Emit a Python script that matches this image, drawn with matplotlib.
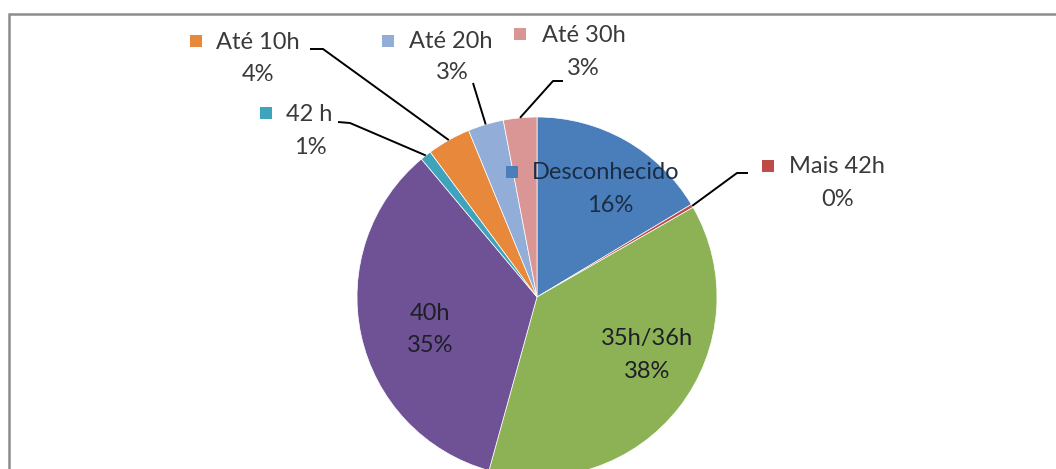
import matplotlib
matplotlib.use('Agg')
import matplotlib.pyplot as plt
import matplotlib.patches as mpatches
import numpy as np

# Weekly working hours distribution
LABELS = ['Desconhecido', 'Mais 42h', '35h/36h', '40h', '42 h', 'Até 10h', 'Até 20h', 'Até 30h']
VALUES = [16.4, 0.3, 37.6, 34.6, 1.0, 3.9, 3.2, 3.0]
COLORS = ['#4A7EBB', '#BE4B48', '#8DB255', '#6F5295', '#3FA3BD', '#E8883A', '#92AED8', '#D99694']

FONT = 'Lato'
FS = 17
TXT = '#3a3a3a'

W, H = 1056, 469
CX, CY, R = 537, 297, 180   # pie centre and radius in pixels


def px(x, y):
    """pixel position (top-left origin) -> data coords of the pie axes"""
    return (x - CX) / R, (CY - y) / R


def main():
    fig = plt.figure(figsize=(W / 100, H / 100), dpi=100)
    fig.patch.set_facecolor('white')
    ax = fig.add_axes([0, 0, 1, 1])

    wedges, _ = ax.pie(VALUES, colors=COLORS, startangle=90, counterclock=False,
                       radius=1, center=(0, 0),
                       wedgeprops=dict(edgecolor='white', linewidth=0.5))

    ax.set_xlim(px(0, 0)[0], px(W, 0)[0])
    ax.set_ylim(px(0, H)[1], px(0, 0)[1])
    ax.set_aspect('equal')
    ax.axis('off')

    # chart frame (only top and left edges fall inside the canvas)
    frame = mpatches.Rectangle((9 / W, -0.1), 1.2, 1 - 14 / H + 0.1,
                               transform=fig.transFigure, fill=False,
                               edgecolor='#8c8c8c', linewidth=1.8)
    fig.patches.append(frame)

    def mid_point(i, r=1.0):
        w = wedges[i]
        a = np.deg2rad((w.theta1 + w.theta2) / 2)
        return r * np.cos(a), r * np.sin(a)

    # outside labels: (index, square pos, name left x, name y, pct pos, leader points)
    outside = [
        (5, (196, 41), 216, 42, (258, 74), [(310, 49), (323, 49)]),
        (4, (266, 113), 286, 114, (310, 147), [(338, 122), (350, 123)]),
        (6, (388, 41), 409, 41, (452, 72), [(473, 83)]),
        (7, (520, 34), 542, 35, (583, 68), [(563, 81), (553, 81)]),
        (1, (768, 166), 789, 166, (838, 200), [(748, 173), (737, 173)]),
    ]
    for i, sq, nx, ny, pp, lead in outside:
        ax.plot(*px(*sq), marker='s', markersize=8.5, color=COLORS[i],
                markeredgewidth=0, linestyle='none')
        ax.text(*px(nx, ny), LABELS[i], ha='left', va='center',
                fontsize=FS, family=FONT, color=TXT)
        ax.text(*px(*pp), f'{VALUES[i]:.0f}%', ha='center', va='center',
                fontsize=FS, family=FONT, color=TXT)
        pts = [px(*p) for p in lead] + [mid_point(i)]
        xs, ys = zip(*pts)
        ax.plot(xs, ys, color='black', linewidth=1.4, solid_capstyle='butt')

    # Desconhecido label sits inside with its key
    ax.plot(*px(512, 172), marker='s', markersize=8.5, color=COLORS[0],
            markeredgewidth=0, linestyle='none')
    ax.text(*px(532, 172), LABELS[0], ha='left', va='center',
            fontsize=FS, family=FONT, color='#1a2d45')
    ax.text(*px(610, 205), f'{VALUES[0]:.0f}%', ha='center', va='center',
            fontsize=FS, family=FONT, color='#1a2d45')

    # inside labels
    for i, pos in [(3, (430, 313)), (2, (647, 338))]:
        ax.text(*px(*pos), LABELS[i], ha='center', va='center',
                fontsize=FS, family=FONT, color='#1e1e28')
        ax.text(*px(pos[0], pos[1] + 33), f'{VALUES[i]:.0f}%', ha='center',
                va='center', fontsize=FS, family=FONT, color='#1e1e28')

    fig.savefig('out.png', dpi=100, facecolor='white')
    plt.close(fig)


if __name__ == '__main__':
    main()
